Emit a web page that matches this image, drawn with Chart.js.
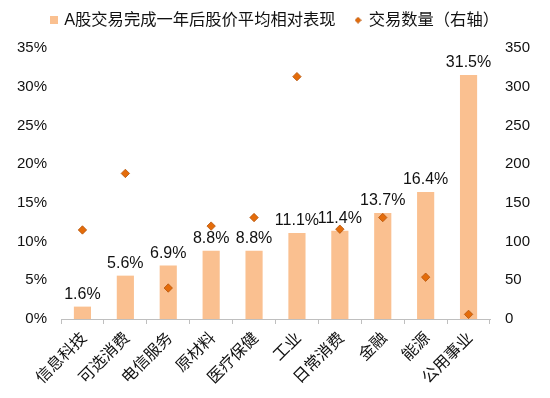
<!DOCTYPE html>
<html>
<head>
<meta charset="utf-8">
<script src="https://cdn.jsdelivr.net/npm/chart.js@4/dist/chart.umd.min.js"></script>
<style>
  html, body { margin: 0; padding: 0; background: #ffffff; }
  #wrap { width: 550px; height: 398px; }
</style>
</head>
<body>
<div id="wrap"><canvas id="c" width="550" height="398"></canvas></div>
<script>
const categories = ['信息科技', '可选消费', '电信服务', '原材料', '医疗保健', '工业', '日常消费', '金融', '能源', '公用事业'];
const performance = [1.6, 5.6, 6.9, 8.8, 8.8, 11.1, 11.4, 13.7, 16.4, 31.5];
const dealCount = [115, 188, 40, 120, 131, 313, 116, 131, 54, 6];
const leftTicks = [0, 5, 10, 15, 20, 25, 30, 35];
const rightTicks = [0, 50, 100, 150, 200, 250, 300, 350];
const seriesNames = ['A股交易完成一年后股价平均相对表现', '交易数量（右轴）'];

const BAR_COLOR = '#FAC090';
const DOT_COLOR = '#E46C0A';
const DOT_BORDER = '#B4530A';
const FONT = '"Liberation Sans", "Noto Sans CJK SC", sans-serif';

function makeSquare(size, color) {
  const c = document.createElement('canvas');
  c.width = size; c.height = size;
  const x = c.getContext('2d');
  x.fillStyle = color; x.fillRect(0, 0, size, size);
  return c;
}
function makeDiamond(size, fill, stroke) {
  const c = document.createElement('canvas');
  c.width = size; c.height = size;
  const x = c.getContext('2d');
  const h = size / 2;
  x.beginPath();
  x.moveTo(h, 0.5); x.lineTo(size - 0.5, h); x.lineTo(h, size - 0.5); x.lineTo(0.5, h); x.closePath();
  x.fillStyle = fill; x.fill();
  x.strokeStyle = stroke; x.lineWidth = 0.8; x.stroke();
  return c;
}
const legendSquare = makeSquare(8, BAR_COLOR);
const legendDiamond = makeDiamond(7, DOT_COLOR, DOT_BORDER);

const valueLabels = {
  id: 'valueLabels',
  afterDatasetsDraw(chart) {
    const meta = chart.getDatasetMeta(0);
    const ctx = chart.ctx;
    ctx.save();
    ctx.font = '16px ' + FONT;
    ctx.fillStyle = '#111111';
    ctx.textAlign = 'center';
    ctx.textBaseline = 'alphabetic';
    meta.data.forEach((bar, i) => {
      ctx.fillText(performance[i].toFixed(1) + '%', bar.x, bar.y - 8);
    });
    ctx.restore();
  }
};

const legendHeight = {
  id: 'legendHeight',
  afterInit(chart) {
    const lg = chart.legend;
    if (lg && !lg._wrapped) {
      const orig = lg.fit.bind(lg);
      lg.fit = function () { orig(); this.height = 56; };
      lg._wrapped = true;
    }
  }
};

new Chart(document.getElementById('c'), {
  data: {
    labels: categories,
    datasets: [
      {
        type: 'bar',
        label: seriesNames[0],
        data: performance,
        backgroundColor: BAR_COLOR,
        borderWidth: 0,
        categoryPercentage: 0.8,
        barPercentage: 0.5,
        yAxisID: 'y',
        order: 2
      },
      {
        type: 'line',
        label: seriesNames[1],
        data: dealCount,
        showLine: false,
        pointStyle: 'rectRot',
        pointRadius: 4.2,
        pointHoverRadius: 4.2,
        pointBackgroundColor: DOT_COLOR,
        pointBorderColor: DOT_BORDER,
        pointBorderWidth: 0.8,
        backgroundColor: DOT_COLOR,
        borderColor: DOT_BORDER,
        yAxisID: 'y1',
        order: 1
      }
    ]
  },
  options: {
    responsive: false,
    animation: false,
    devicePixelRatio: 1,
    layout: { padding: { top: -8, left: 0, right: 0, bottom: 0 } },
    plugins: {
      tooltip: { enabled: false },
      legend: {
        display: true,
        position: 'top',
        labels: {
          usePointStyle: true,
          boxWidth: 5,
          boxHeight: 5,
          padding: 20,
          color: '#111111',
          font: { size: 16.3, family: FONT },
          generateLabels(chart) {
            return chart.data.datasets.map((ds, i) => ({
              text: ds.label,
              pointStyle: i === 0 ? legendSquare : legendDiamond,
              fillStyle: i === 0 ? BAR_COLOR : DOT_COLOR,
              strokeStyle: 'transparent',
              lineWidth: 0,
              hidden: false,
              datasetIndex: i,
              fontColor: '#111111'
            }));
          }
        }
      }
    },
    scales: {
      x: {
        type: 'category',
        offset: true,
        grid: { display: true, drawOnChartArea: false, drawTicks: true, tickLength: 5, color: '#BFBFBF', offset: true },
        border: { display: true, color: '#BFBFBF', width: 1 },
        ticks: {
          maxRotation: 45, minRotation: 45, autoSkip: false, padding: 5, labelOffset: 2,
          color: '#111111', font: { size: 16, family: FONT }
        },
        afterFit(scale) { scale.height = 79; }
      },
      y: {
        type: 'linear', position: 'left',
        min: 0, max: 35,
        afterBuildTicks(scale) { scale.ticks = leftTicks.map(v => ({ value: v })); },
        grid: { display: false, drawTicks: false },
        border: { display: false },
        ticks: {
          padding: 14, color: '#111111', font: { size: 15, family: FONT },
          callback: v => v + '%'
        },
        afterFit(scale) { scale.width = 61; }
      },
      y1: {
        type: 'linear', position: 'right',
        min: 0, max: 350,
        afterBuildTicks(scale) { scale.ticks = rightTicks.map(v => ({ value: v })); },
        grid: { display: false, drawTicks: false },
        border: { display: false },
        ticks: { padding: 15, color: '#111111', font: { size: 15, family: FONT } },
        afterFit(scale) { scale.width = 60; }
      }
    }
  },
  plugins: [legendHeight, valueLabels]
});
</script>
</body>
</html>
